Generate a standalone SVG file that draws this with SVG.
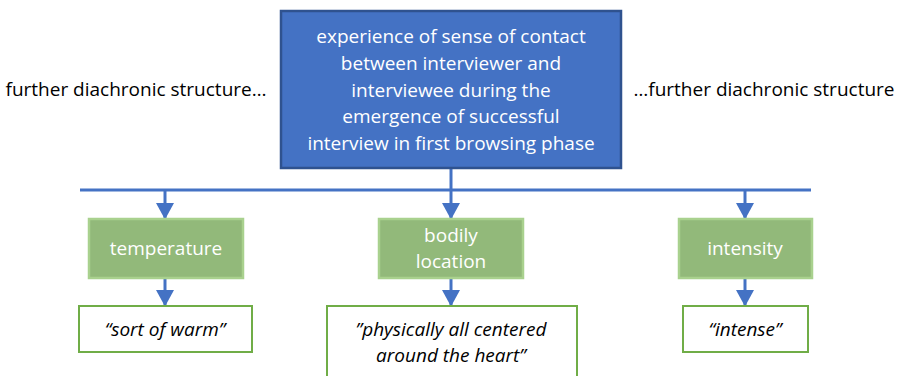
<svg xmlns="http://www.w3.org/2000/svg" width="899" height="376" viewBox="0 0 899 376">
<style>
.t{font-family:"Open Sans","Liberation Sans",sans-serif;font-size:19px;text-anchor:middle}
.w{fill:#ffffff}
.k{fill:#000000}
.i{font-style:italic}
.blue{fill:#4472C4;stroke:#2F528F;stroke-width:2.5}
.green{fill:#92B97A;stroke:#A9D18E;stroke-width:2.5}
.quote{fill:#ffffff;stroke:#70AD47;stroke-width:2}
.ln{stroke:#4472C4;stroke-width:3;fill:none}
</style>
<defs>
<marker id="ah" markerWidth="6" markerHeight="6" refX="5" refY="3" orient="auto" markerUnits="strokeWidth">
<path d="M0,0 L5.5,3 L0,6 Z" fill="#4472C4"/>
</marker>
</defs>
<g id="connectors">
<line class="ln" x1="451" y1="168" x2="451" y2="190"/>
<line class="ln" x1="80" y1="190" x2="811" y2="190"/>
<line class="ln" x1="165" y1="190" x2="165" y2="218" marker-end="url(#ah)"/>
<line class="ln" x1="451" y1="190" x2="451" y2="218" marker-end="url(#ah)"/>
<line class="ln" x1="745" y1="190" x2="745" y2="218" marker-end="url(#ah)"/>
<line class="ln" x1="165" y1="278" x2="165" y2="305" marker-end="url(#ah)"/>
<line class="ln" x1="451" y1="278" x2="451" y2="305" marker-end="url(#ah)"/>
<line class="ln" x1="745" y1="278" x2="745" y2="305" marker-end="url(#ah)"/>
</g>
<g id="left-text"><text class="t k" x="136" y="96">further diachronic structure…</text></g>
<g id="right-text"><text class="t k" x="764" y="96">…further diachronic structure</text></g>
<g id="top">
<rect class="blue" x="281" y="11" width="340" height="157"/>
<text class="t w" x="451"><tspan x="451" y="43">experience of sense of contact</tspan><tspan x="451" y="70">between interviewer and</tspan><tspan x="451" y="97">interviewee during the</tspan><tspan x="451" y="123">emergence of successful</tspan><tspan x="451" y="150">interview in first browsing phase</tspan></text>
</g>
<g id="temperature">
<rect class="green" x="89" y="219" width="154" height="59"/>
<text class="t w" x="166" y="255">temperature</text>
</g>
<g id="bodily">
<rect class="green" x="379" y="219" width="144" height="59"/>
<text class="t w"><tspan x="451" y="242">bodily</tspan><tspan x="451" y="268">location</tspan></text>
</g>
<g id="intensity">
<rect class="green" x="679" y="219" width="133" height="59"/>
<text class="t w" x="745" y="255">intensity</text>
</g>
<g id="q1">
<rect class="quote" x="79" y="306" width="173" height="46"/>
<text class="t k i" x="165" y="336">“sort of warm”</text>
</g>
<g id="q2">
<rect class="quote" x="327" y="306" width="250" height="80"/>
<text class="t k i"><tspan x="451" y="336">”physically all centered</tspan><tspan x="451" y="362">around the heart”</tspan></text>
</g>
<g id="q3">
<rect class="quote" x="683" y="306" width="125" height="46"/>
<text class="t k i" x="745" y="336">“intense”</text>
</g>
</svg>
